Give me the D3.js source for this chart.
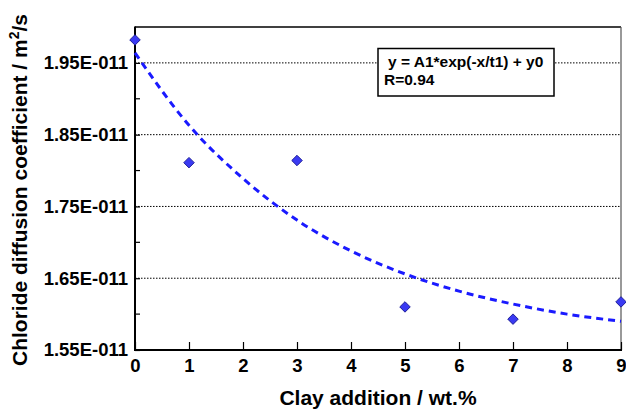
<!DOCTYPE html>
<html lang="en">
<head>
<meta charset="utf-8">
<script src="https://d3js.org/d3.v7.min.js"></script>
<style>
  body { margin: 0; background: #fff; }
  text { font-family: "Liberation Sans", Arial, sans-serif; font-weight: bold; fill: #000; }
</style>
</head>
<body>
<svg id="chart" width="626" height="414"></svg>
<script>
// measured points (clay wt.% vs D, in units of 1e-11 m2/s)
var clay = [0, 1, 3, 5, 7, 9];
var coef = [1.982, 1.811, 1.814, 1.610, 1.593, 1.617];

// fitted curve at each integer x
var fitX = [0, 1, 2, 3, 4, 5, 6, 7, 8, 9];
var fitY = [1.964, 1.863, 1.789, 1.731, 1.688, 1.656, 1.632, 1.614, 1.600, 1.590];

var yTicks = [1.55, 1.65, 1.75, 1.85, 1.95];
var yMinor = [1.60, 1.70, 1.80, 1.90];
var xTicks = [0, 1, 2, 3, 4, 5, 6, 7, 8, 9];

var fitText = ["y = A1*exp(-x/t1) + y0", "R=0.94"];

// plot area edges ("top" is taken by window.top)
var pL = 135, pR = 621, pT = 27, pB = 350;

var svg = d3.select("#chart");

var x = d3.scaleLinear().domain([0, 9]).range([pL, pR]);
var y = d3.scaleLinear().domain([1.55, 2.0]).range([pB, pT]);

// dotted grid at major y ticks
svg.append("g").selectAll("line")
  .data(yTicks.slice(1))
  .enter().append("line")
  .attr("x1", pL).attr("x2", pR)
  .attr("y1", function(d) { return y(d); })
  .attr("y2", function(d) { return y(d); })
  .attr("stroke", "#000")
  .attr("stroke-width", 1)
  .attr("stroke-dasharray", "1.5,1.5");

// frame top + right (thin)
svg.append("line").attr("x1", pL).attr("x2", pR).attr("y1", pT).attr("y2", pT)
  .attr("stroke", "#000").attr("stroke-width", 1.5);
svg.append("line").attr("x1", pR).attr("x2", pR).attr("y1", pT).attr("y2", pB)
  .attr("stroke", "#555").attr("stroke-width", 1.2);

// y axis, ticks pointing inward
var yAxis = d3.axisLeft(y)
  .tickValues(yTicks)
  .tickSize(-5)
  .tickPadding(7)
  .tickFormat(function(d) { return d.toFixed(2) + "E-011"; });

var gy = svg.append("g")
  .attr("transform", "translate(" + pL + ",0)")
  .call(yAxis);
gy.select(".domain").remove();
gy.selectAll(".tick line").attr("stroke", "#000").attr("stroke-width", 1.2);
gy.selectAll("text").style("font-size", "18.5px");

gy.selectAll(".minor")
  .data(yMinor)
  .enter().append("line")
  .attr("class", "minor")
  .attr("x1", 0).attr("x2", 5)
  .attr("y1", function(d) { return y(d); })
  .attr("y2", function(d) { return y(d); })
  .attr("stroke", "#000").attr("stroke-width", 1.2);

// x axis, ticks pointing up
var xAxis = d3.axisBottom(x)
  .tickValues(xTicks)
  .tickSize(-8)
  .tickPadding(9)
  .tickFormat(d3.format("d"));

var gx = svg.append("g")
  .attr("transform", "translate(0," + pB + ")")
  .call(xAxis);
gx.select(".domain").remove();
gx.selectAll(".tick line").attr("stroke", "#000").attr("stroke-width", 1.2);
gx.selectAll("text").style("font-size", "18.5px");

// main axis lines
svg.append("line").attr("x1", pL).attr("x2", pL).attr("y1", pT - 0.5).attr("y2", pB + 1)
  .attr("stroke", "#000").attr("stroke-width", 2);
svg.append("line").attr("x1", pL - 1).attr("x2", pR + 1).attr("y1", pB).attr("y2", pB)
  .attr("stroke", "#000").attr("stroke-width", 2);

// fit curve
var line = d3.line()
  .x(function(d, i) { return x(fitX[i]); })
  .y(function(d) { return y(d); })
  .curve(d3.curveMonotoneX);

svg.append("path")
  .datum(fitY)
  .attr("d", line)
  .attr("fill", "none")
  .attr("stroke", "#1a1aff")
  .attr("stroke-width", 3)
  .attr("stroke-dasharray", "7,5");

// diamond markers
svg.append("g").selectAll("path")
  .data(coef)
  .enter().append("path")
  .attr("d", d3.symbol().type(d3.symbolDiamond2).size(70))
  .attr("transform", function(d, i) { return "translate(" + x(clay[i]) + "," + y(d) + ")"; })
  .attr("fill", "#3a3af2")
  .attr("stroke", "#20209a")
  .attr("stroke-width", 1);

// fit equation box
svg.append("rect")
  .attr("x", 378).attr("y", 48.5).attr("width", 176).attr("height", 47.5)
  .attr("fill", "#fff").attr("stroke", "#000").attr("stroke-width", 1.5);

svg.append("text").attr("x", 388).attr("y", 67)
  .style("font-size", "15.5px").text(fitText[0]);
svg.append("text").attr("x", 384).attr("y", 85)
  .style("font-size", "15.5px").text(fitText[1]);

// axis titles
svg.append("text")
  .attr("x", 378).attr("y", 405)
  .attr("text-anchor", "middle")
  .style("font-size", "21px")
  .text("Clay addition / wt.%");

var yt = svg.append("text")
  .attr("transform", "translate(27,190) rotate(-90)")
  .attr("text-anchor", "middle")
  .style("font-size", "21px");
yt.append("tspan").text("Chloride diffusion coefficient / m");
yt.append("tspan").attr("dy", -8).style("font-size", "14px").text("2");
yt.append("tspan").attr("dy", 8).text("/s");
</script>
</body>
</html>
